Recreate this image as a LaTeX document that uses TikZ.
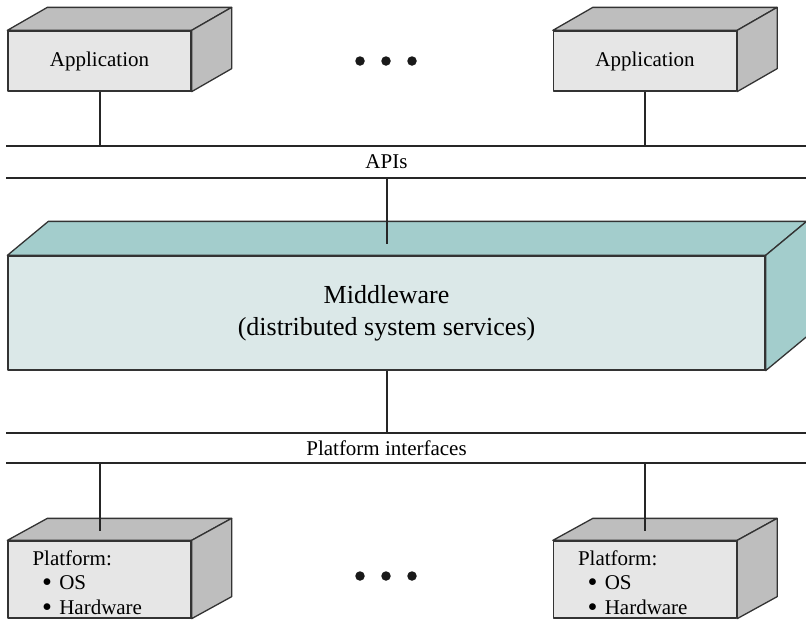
\documentclass[tikz,border=0pt]{standalone}
\usepackage{fontspec}
\setmainfont{Liberation Serif}
\usetikzlibrary{calc}

\definecolor{grayfront}{HTML}{E6E6E6}
\definecolor{graytop}{HTML}{BEBEBE}
\definecolor{tealfront}{HTML}{DBE8E8}
\definecolor{tealtop}{HTML}{A3CDCC}
\definecolor{edge}{HTML}{333333}

\newcommand{\platbullet}{\hspace{0.45em}\smash{\raisebox{-0.1em}{\scalebox{1.35}{\textbullet}}}\hspace{0.35em}}

\begin{document}
\begin{tikzpicture}[x=1pt,y=-1pt,
  face/.style={draw=edge, line width=1.3pt, line join=round},
  box/.style={face, inner sep=0pt, font=\fontsize{21}{24}\selectfont},
  bus/.style={draw=black!85, line width=2.6pt},
  wire/.style={draw=black!85, line width=2pt},
  busname/.style={font=\fontsize{21}{24}\selectfont, inner sep=0pt},
  blob/.style={circle, fill=black!90, inner sep=0pt, minimum size=9.5pt}]
\useasboundingbox (0,0) rectangle (806,625);

%%% FRONT FACES
\node[box, fill=grayfront, minimum width=183, minimum height=60] (appL) at (99.5,61) {Application};
\node[box, fill=grayfront, minimum width=183, minimum height=60] (appR) at (645,61) {Application};
\node[box, fill=tealfront, minimum width=757, minimum height=114, align=center,
  font=\fontsize{26}{32}\selectfont] (mw) at (386.5,313) {Middleware\\(distributed system services)};
\node[box, fill=grayfront, minimum width=183, minimum height=77] (platL) at (99.5,579.5) {};
\node[box, fill=grayfront, minimum width=183, minimum height=77] (platR) at (645,579.5) {};

% top and side faces of each box
\foreach \n/\dx/\dy/\c in {appL/40/23/graytop, appR/40/23/graytop, mw/41/34/tealtop,
  platL/40/22/graytop, platR/40/22/graytop}
{
\filldraw[face, fill=\c] (\n.north west) -- ++(\dx,-\dy) -- ($(\n.north east)+(\dx,-\dy)$) -- (\n.north east) -- cycle;
\filldraw[face, fill=\c] (\n.north east) -- ++(\dx,-\dy) -- ($(\n.south east)+(\dx,-\dy)$) -- (\n.south east) -- cycle;
}

% platform texts
\foreach \n in {platL,platR}
\node[anchor=north west, align=left, inner sep=0pt, font=\fontsize{21}{24.5}\selectfont]
  (\n txt) at ($(\n.north west)+(25,10)$)
  {Platform:\\\platbullet OS\\\platbullet Hardware};

%%% BUS LINES
\coordinate (apiAw) at (6,146);   \coordinate (apiAe) at (806,146);
\coordinate (apiBw) at (6,178);   \coordinate (apiBe) at (806,178);
\coordinate (plfAw) at (6,433);   \coordinate (plfAe) at (806,433);
\coordinate (plfBw) at (6,463);   \coordinate (plfBe) at (806,463);
\draw[bus] (apiAw) -- (apiAe);
\draw[bus] (apiBw) -- (apiBe);
\draw[bus] (plfAw) -- (plfAe);
\draw[bus] (plfBw) -- (plfBe);
\node[busname] (apis) at (386.5,162) {APIs};
\node[busname] (plfs) at (386.5,448) {Platform interfaces};

% connectors
\coordinate (mwtop) at ($(mw.north)+(0,-11)$);
\draw[wire] (appL.south) -- (appL.south |- apiAw);
\draw[wire] (appR.south) -- (appR.south |- apiAw);
\draw[wire] (mw.north |- apiBw) -- (mwtop);
\draw[wire] (mw.south) -- (mw.south |- plfAw);
\foreach \n in {platL,platR}
{
\coordinate (\n top) at ($(\n.north)+(0,-9)$);
\draw[wire] (\n.north |- plfBw) -- (\n top);
}

% ellipsis dots
\foreach \x [count=\i] in {360,386,412}
{
\node[blob] (dotT\i) at (\x,61) {};
\node[blob] (dotB\i) at (\x,576) {};
}
\end{tikzpicture}
\end{document}
